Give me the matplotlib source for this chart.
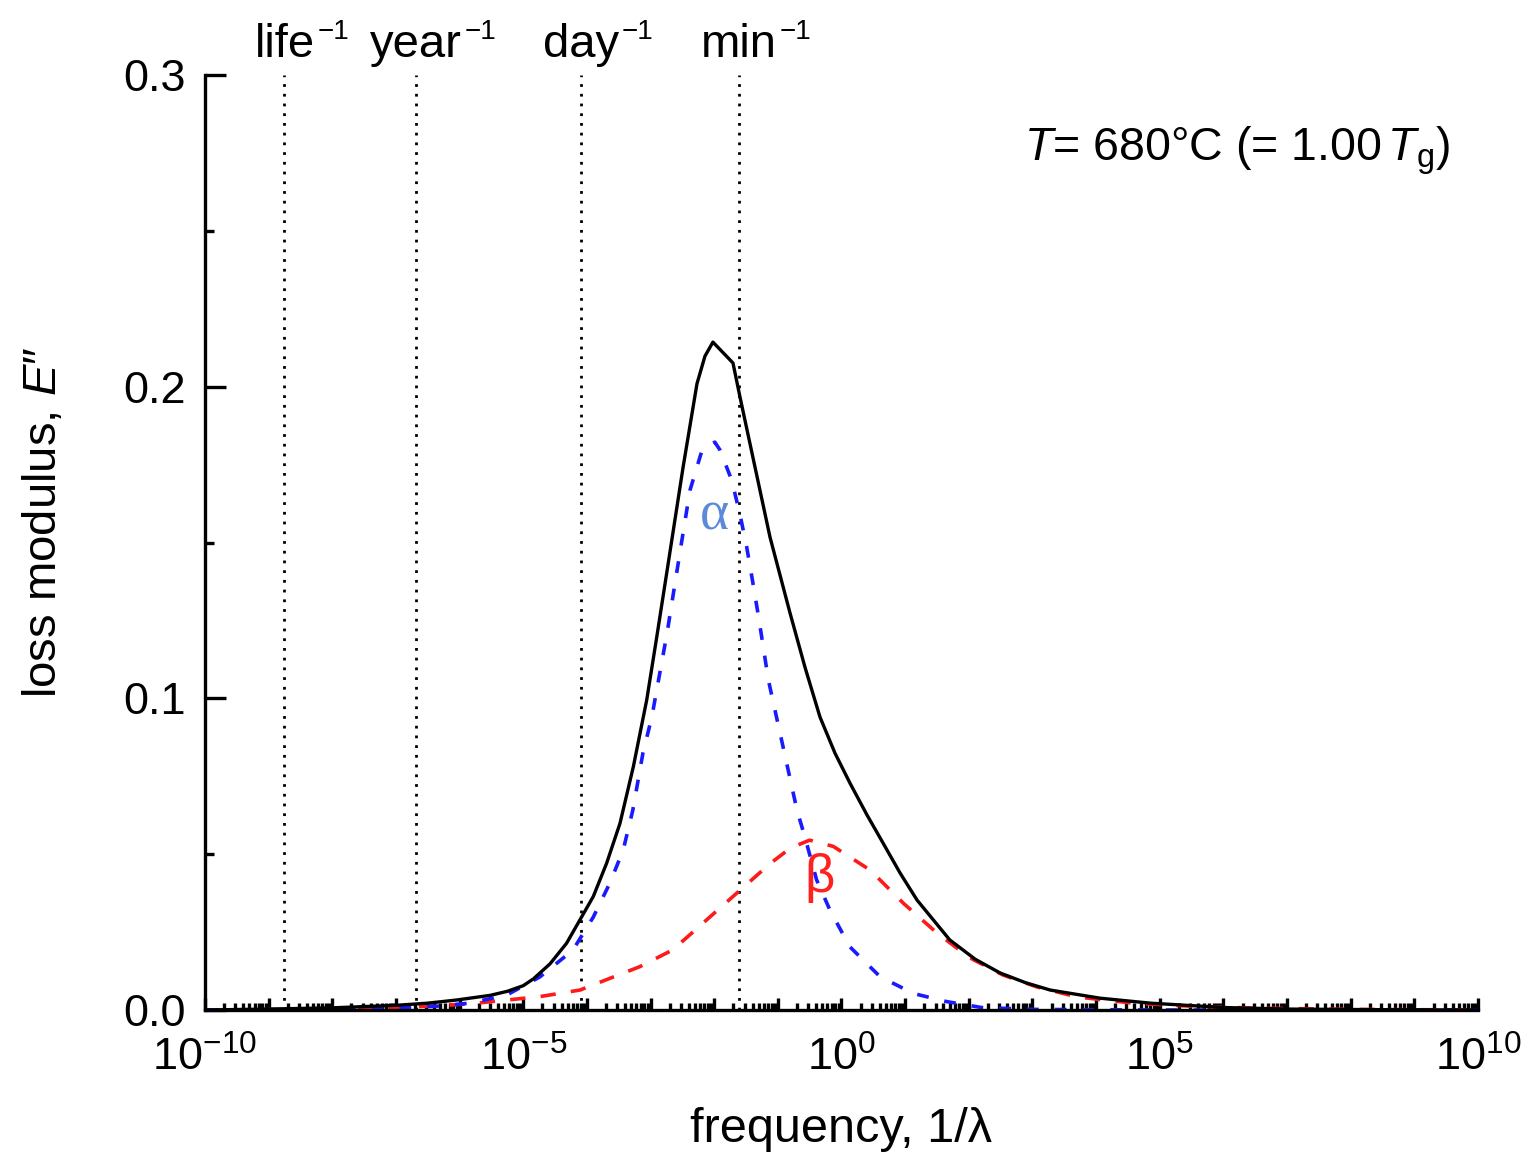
import numpy as np
import matplotlib
matplotlib.use("Agg")
import matplotlib.pyplot as plt
from matplotlib.ticker import LogLocator, FixedLocator, FuncFormatter, NullFormatter

plt.rcParams['font.family'] = ['Liberation Sans', 'DejaVu Sans']
plt.rcParams['mathtext.fontset'] = 'custom'
plt.rcParams['mathtext.rm'] = 'Liberation Sans'
plt.rcParams['mathtext.it'] = 'Liberation Sans:italic'
plt.rcParams['mathtext.bf'] = 'Liberation Sans:bold'
plt.rcParams['lines.scale_dashes'] = False

# ---- loss modulus spectra (log10 of frequency, E'') ----
logf_total = [-10.0, -9.0, -8.0, -7.0, -6.5, -6.05, -5.52, -5.25, -5.0, -4.84,
              -4.58, -4.32, -4.11, -3.90, -3.69, -3.48, -3.27, -3.06, -2.90,
              -2.74, -2.49, -2.27, -2.145, -2.02, -1.705, -1.595, -1.359, -1.123,
              -0.809, -0.574, -0.338, -0.102, 0.133, 0.40, 0.652, 0.919, 1.186,
              1.70, 2.10, 2.49, 2.90, 3.28, 4.06, 4.85, 6.0, 7.0, 8.5, 10.0]
E_total = [0.0, 0.0003, 0.0007, 0.0015, 0.0022, 0.0032, 0.0047, 0.0060, 0.0078, 0.0100,
           0.0148, 0.0214, 0.0289, 0.0364, 0.0471, 0.0599, 0.0781, 0.0995, 0.120,
           0.141, 0.174, 0.201, 0.2098, 0.2143, 0.2076, 0.1967, 0.1742, 0.1517,
           0.1274, 0.1100, 0.0940, 0.0824, 0.0728, 0.0626, 0.0536, 0.0440, 0.0353,
           0.0225, 0.0163, 0.0119, 0.0087, 0.0064, 0.0038, 0.0022, 0.0008, 0.0003, 0.0001, 0.0]

logf_alpha = [-10.0, -8.0, -7.0, -6.3, -5.84, -5.26, -4.74, -4.22, -3.90, -3.64,
              -3.43, -3.28, -3.12, -2.98, -2.74, -2.54, -2.38, -2.19, -1.99, -1.91,
              -1.725, -1.595, -1.49, -1.40, -1.31, -1.23, -1.15, -1.045, -0.70,
              -0.57, -0.39, -0.18, 0.13, 0.605, 1.13, 1.65, 2.2, 3.0, 5.0, 10.0]
E_alpha = [0.0, 0.0002, 0.0006, 0.0013, 0.0022, 0.0048, 0.0106, 0.0192, 0.0298, 0.0407,
           0.0513, 0.064, 0.0824, 0.094, 0.121, 0.1466, 0.1668, 0.1797, 0.1822, 0.1797,
           0.170, 0.159, 0.1486, 0.138, 0.127, 0.1166, 0.106, 0.0962, 0.0642,
           0.0551, 0.0417, 0.032, 0.0203, 0.0107, 0.0053, 0.0027, 0.0008, 0.0002, 0.0, 0.0]

logf_beta = [-10.0, -8.0, -7.0, -6.2, -5.73, -4.74, -4.11, -3.17, -2.65, -2.12,
             -1.59, -1.12, -0.80, -0.50, -0.13, 0.45, 0.97, 1.50, 2.02, 2.54,
             3.07, 3.70, 4.58, 5.5, 6.5, 8.0, 10.0]
E_beta = [0.0, 0.0003, 0.0008, 0.0015, 0.0022, 0.0043, 0.0064, 0.0139, 0.0193, 0.0289,
          0.0385, 0.047, 0.052, 0.0545, 0.0525, 0.0449, 0.0343, 0.0247, 0.0167, 0.0112,
          0.0074, 0.0042, 0.0022, 0.0012, 0.0006, 0.0002, 0.0]

# ---- reference time scales (log10 of frequency) ----
scale_names = ['life', 'year', 'day', 'min']
scale_logf = [-8.751, -6.685, -4.093, -1.606]

y_major = [0.0, 0.1, 0.2, 0.3]
y_minor = [0.05, 0.15, 0.25]

fig = plt.figure(figsize=(15.22, 11.54), dpi=100)
ax = fig.add_axes([0.13469, 0.12478, 0.83640, 0.81023])

for lf in scale_logf:
    ax.axvline(10 ** lf, color='black', lw=2.0, dashes=(2.0, 5.0), zorder=1)

ax.plot(10 ** np.array(logf_beta), E_beta, color='#ff1a1a', lw=2.6,
        dashes=(11.0, 11.0), zorder=2)
ax.plot(10 ** np.array(logf_alpha), E_alpha, color='#1a1aff', lw=2.6,
        dashes=(8.5, 11.5), zorder=2)
ax.plot(10 ** np.array(logf_total), E_total, color='black', lw=2.4, zorder=3,
        solid_joinstyle='round')

ax.set_xscale('log')
ax.set_xlim(1e-10, 1e10)
ax.set_ylim(0, 0.3)

for side in ('top', 'right'):
    ax.spines[side].set_visible(False)
for side in ('left', 'bottom'):
    ax.spines[side].set_linewidth(2.4)

ax.xaxis.set_major_locator(LogLocator(base=10, numticks=40))
ax.xaxis.set_minor_locator(LogLocator(base=10, subs=np.arange(2, 10), numticks=40))


def decade_label(v, pos):
    e = int(round(np.log10(v)))
    if e % 5 != 0:
        return ''
    return r'$10^{%d}$' % e


ax.xaxis.set_major_formatter(FuncFormatter(decade_label))
ax.xaxis.set_minor_formatter(NullFormatter())
ax.yaxis.set_major_locator(FixedLocator(y_major))
ax.yaxis.set_minor_locator(FixedLocator(y_minor))
ax.yaxis.set_major_formatter(FuncFormatter(lambda v, p: '%.1f' % v))

ax.tick_params(axis='x', which='major', direction='in', length=9, width=2.4,
               pad=19, labelsize=32.5)
ax.tick_params(axis='x', which='minor', direction='in', length=5, width=2.4)
ax.tick_params(axis='y', which='major', direction='in', length=15, width=2.4,
               pad=14, labelsize=32.5)
ax.tick_params(axis='y', which='minor', direction='in', length=6.5, width=2.4)

ax.set_xlabel('frequency, 1/λ', fontsize=35)
ax.xaxis.set_label_coords(0.5, -0.104)
ax.set_ylabel('loss modulus, $\\mathit{E}$″', fontsize=34)
ax.yaxis.set_label_coords(-0.109, 0.522)

# time-scale labels above the plot
trans = ax.get_xaxis_transform()
for name, lf in zip(scale_names, scale_logf):
    t = ax.text(10 ** lf, 1.019, name, transform=trans, ha='center',
                va='baseline', fontsize=34)
    ax.annotate('−1', xy=(1, 1), xycoords=t, xytext=(2, 3),
                textcoords='offset points', ha='left', va='top', fontsize=20)

ax.text(0.978, 0.909, r'$\mathit{T}$= 680°C (= 1.00$\,\mathit{T}_{\mathrm{g}}$)',
        transform=ax.transAxes, ha='right', va='baseline', fontsize=33.5)

ax.text(10 ** -1.99, 0.1588, 'α', color='#5a8ad8', fontsize=40,
        family=['Liberation Serif', 'DejaVu Serif'], ha='center', va='center')
ax.text(10 ** -0.34, 0.0423, 'β', color='#ff2020', fontsize=38,
        ha='center', va='center')

fig.savefig('out.png', dpi=100)
